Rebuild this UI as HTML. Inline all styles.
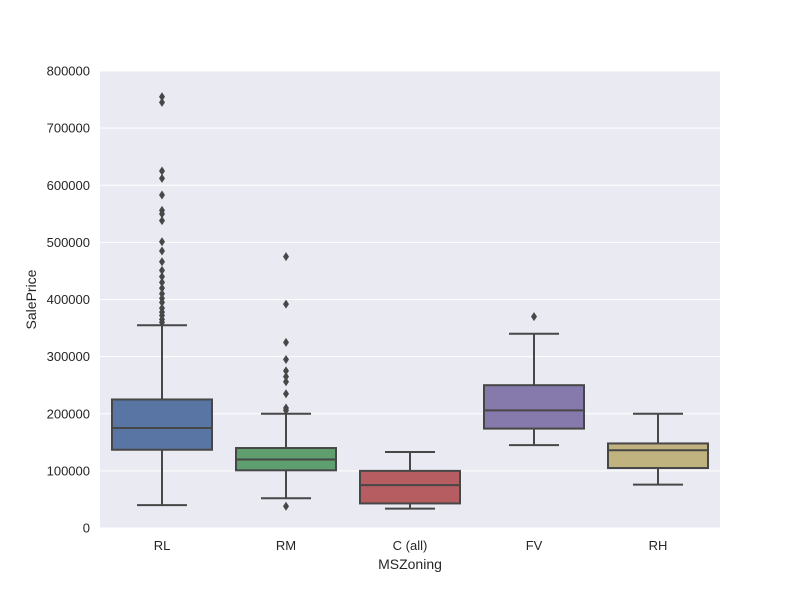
<!DOCTYPE html>
<html><head><meta charset="utf-8"><style>
body{margin:0;background:#fff}
svg{display:block;font-family:"Liberation Sans",sans-serif}
</style></head><body>
<svg id="chart" width="800" height="594"></svg>
<script>
const categories=["RL","RM","C (all)","FV","RH"];
const colors=["#5875a4","#5f9e6e","#b55d60","#857aab","#c1b37f"];
const whiskerLow=[40000,52000,34000,145000,76000];
const q1=[137000,101000,43000,174000,105000];
const medians=[175000,120000,75000,206000,136000];
const q3=[225000,140000,100000,250000,148000];
const whiskerHigh=[355000,200000,133000,340000,200000];
const outliers=[
 [755000,745000,625000,612000,583000,556000,550000,538000,501000,485000,466000,451000,440000,430000,420000,410000,402000,395000,385000,378000,372000,365000,360000],
 [475000,392000,325000,295000,275000,265000,256000,235000,210000,206000,38000],
 [],
 [370000],
 []
];
const yTicks=[0,100000,200000,300000,400000,500000,600000,700000,800000];

const NS="http://www.w3.org/2000/svg";
const svg=document.getElementById("chart");
const L=100,R=720,T=71,B=528,yMax=800000;
const y=v=>B-(v/yMax)*(B-T);
const band=(R-L)/categories.length;
const xc=i=>L+band*(i+0.5);
function mk(tag,attrs,parent){const e=document.createElementNS(NS,tag);for(const k in attrs)e.setAttribute(k,attrs[k]);(parent||svg).appendChild(e);return e;}

const bg=mk("rect",{x:L,y:T,width:R-L,height:B-T,fill:"#eaeaf2"});


yTicks.forEach(t=>{
  const g=mk("line",{x1:L,x2:R,y1:y(t),y2:y(t),stroke:"#fff","stroke-width":1});
  
  
  const tx=mk("text",{x:L-10,y:y(t)+4.5,"text-anchor":"end","font-size":"13",fill:"#262626"});
  tx.textContent=t;
  
  
});
const stroke="#474747",bw=100,cw=50;
categories.forEach((c,i)=>{
  const g=mk("g",{});
  
  
  const x=xc(i);
  mk("line",{x1:x,x2:x,y1:y(q3[i]),y2:y(whiskerHigh[i]),stroke,"stroke-width":2},g);
  mk("line",{x1:x,x2:x,y1:y(q1[i]),y2:y(whiskerLow[i]),stroke,"stroke-width":2},g);
  mk("line",{x1:x-cw/2,x2:x+cw/2,y1:y(whiskerHigh[i]),y2:y(whiskerHigh[i]),stroke,"stroke-width":2},g);
  mk("line",{x1:x-cw/2,x2:x+cw/2,y1:y(whiskerLow[i]),y2:y(whiskerLow[i]),stroke,"stroke-width":2},g);
  mk("rect",{x:x-bw/2,y:y(q3[i]),width:bw,height:y(q1[i])-y(q3[i]),fill:colors[i],stroke,"stroke-width":2},g);
  mk("line",{x1:x-bw/2,x2:x+bw/2,y1:y(medians[i]),y2:y(medians[i]),stroke,"stroke-width":2},g);
  outliers[i].forEach(v=>{
    const yy=y(v);
    const d=mk("path",{d:`M${x} ${yy-4.5}L${x+3} ${yy}L${x} ${yy+4.5}L${x-3} ${yy}Z`,fill:stroke},g);
    
    
  });
  const tx=mk("text",{x:x,y:B+22,"text-anchor":"middle","font-size":"13",fill:"#262626"});
  tx.textContent=c;
  
  
});
const xt=mk("text",{x:(L+R)/2,y:569,"text-anchor":"middle","font-size":"14",fill:"#262626"});
xt.textContent="MSZoning";


const yt=mk("text",{x:0,y:0,"text-anchor":"middle","font-size":"14",fill:"#262626",transform:`translate(36,${(T+B)/2}) rotate(-90)`});
yt.textContent="SalePrice";


</script>
</body></html>
